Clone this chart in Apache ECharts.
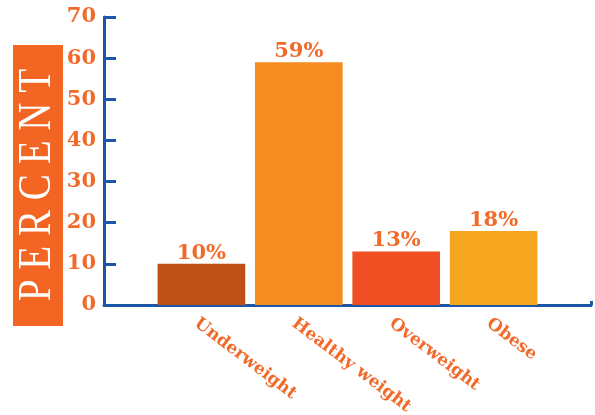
<!DOCTYPE html>
<html>
<head>
<meta charset="utf-8">
<script src="https://cdn.jsdelivr.net/npm/echarts@6/dist/echarts.min.js"></script>
<style>
  html, body { margin: 0; padding: 0; background: #ffffff; }
  #chart { width: 595px; height: 415px; }
</style>
</head>
<body>
<div id="chart"></div>
<script>
// Weight status distribution (percent of people)
const categories = ['Underweight', 'Healthy weight', 'Overweight', 'Obese'];
const values = [10, 59, 13, 18];
const yMin = 0;
const yMax = 70;
const yStep = 10;

// Styling
const barColors = ['#bf5017', '#f58c21', '#f04f24', '#f6a51f'];
const orange = '#f26a2a';
const axisBlue = '#1d56a6';
const serifBold = '"DejaVu Serif", "Liberation Serif", serif';

// The category axis runs edge to edge with an empty slot at each end,
// so the bars sit on the interior ticks.
const axisCategories = [''].concat(categories, ['']);
const barData = ['-'].concat(
  values.map((v, i) => ({ value: v, itemStyle: { color: barColors[i] } })),
  ['-']
);

const chart = echarts.init(document.getElementById('chart'), null, { renderer: 'canvas' });

chart.setOption({
  animation: false,
  backgroundColor: '#ffffff',
  grid: {
    left: 104, right: 4, top: 17, bottom: 110,
    containLabel: false,
    outerBoundsMode: 'none'
  },
  xAxis: {
    type: 'category',
    data: axisCategories,
    boundaryGap: false,
    axisLine: { show: true, lineStyle: { color: axisBlue, width: 3 } },
    axisTick: {
      show: true,
      inside: true,
      length: 4,
      interval: (i) => i === axisCategories.length - 1,
      lineStyle: { color: axisBlue, width: 3 }
    },
    axisLabel: {
      interval: 0,
      rotate: -37,
      margin: 10,
      verticalAlign: 'top',
      color: orange,
      fontFamily: serifBold,
      fontWeight: 'bold',
      fontSize: 17
    },
    splitLine: { show: false }
  },
  yAxis: {
    type: 'value',
    min: yMin,
    max: yMax,
    interval: yStep,
    axisLine: { show: true, lineStyle: { color: axisBlue, width: 3 } },
    axisTick: { show: true, inside: true, length: 12, lineStyle: { color: axisBlue, width: 3 } },
    axisLabel: {
      margin: 8,
      color: orange,
      fontFamily: serifBold,
      fontWeight: 'bold',
      fontSize: 21
    },
    splitLine: { show: false }
  },
  series: [{
    type: 'bar',
    data: barData,
    barWidth: '90%',
    label: {
      show: true,
      position: 'top',
      distance: 0,
      formatter: '{c}%',
      color: orange,
      fontFamily: serifBold,
      fontWeight: 'bold',
      fontSize: 21
    }
  }],
  graphic: [
    {
      type: 'rect',
      shape: { x: 13, y: 45, width: 50, height: 281 },
      style: { fill: '#f26522' }
    },
    {
      type: 'text',
      x: 38,
      y: 185,
      rotation: Math.PI / 2,
      scaleX: 0.85,
      style: {
        text: 'P E R C E N T',
        font: '46px "Liberation Serif", serif',
        fill: '#ffffff',
        align: 'center',
        verticalAlign: 'middle'
      }
    }
  ]
});
</script>
</body>
</html>
